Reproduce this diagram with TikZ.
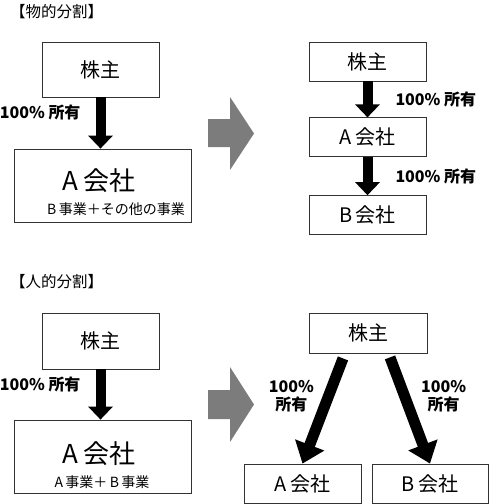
\documentclass[tikz,border=0pt]{standalone}
\usepackage{fontspec}
\setmainfont{Noto Sans CJK JP}
\usepackage{tikz}
\usetikzlibrary{positioning, arrows.meta, calc}
\definecolor{boxline}{HTML}{333333}
\definecolor{movegray}{HTML}{7C7C7C}
\tikzset{
  title text/.style={
    anchor=west,
    inner sep=0pt,
    font=\fontsize{15.5}{18}\selectfont
  },
  holder box/.style={
    draw=boxline,
    line width=0.8pt,
    minimum width=117pt,
    minimum height=39pt,
    inner sep=0pt,
    font=\fontsize{20}{24}\selectfont
  },
  company box/.style={
    draw=boxline,
    line width=0.8pt,
    minimum width=177pt,
    minimum height=73pt,
    inner sep=0pt
  },
  big name/.style={inner sep=0pt, font=\fontsize{26}{30}\selectfont},
  business/.style={inner sep=0pt, font=\fontsize{14}{16}\selectfont},
  own arrow/.style={
    -{Triangle[width=24pt,length=13pt]},
    line width=10pt
  },
  slant arrow/.style={
    -{Triangle[width=30pt,length=20pt]},
    line width=11pt
  },
  own label/.style={
    inner sep=0pt,
    align=center,
    font=\bfseries\fontsize{16}{18}\selectfont
  },
  gray block arrow/.style={fill=movegray}
}

\begin{document}
\begin{tikzpicture}[x=1pt, y=-1pt]
  \useasboundingbox (0,0) rectangle (490,504);

  % physical split
  \node[title text] (title1) at (10,12) {【物的分割】};
  \node[holder box, minimum height=55pt] (holder1) at (100.5,69.5) {株主};
  \node[company box] (compA1) at (102.5,185.5) {};
  \node[big name] (nameA1) at (99,181) {A\,会社};
  \node[business] (busA1) at (116,209) {B\,事業＋その他の事業};
  \draw[own arrow] (holder1.south) -- node[own label, pos=0.3, left=15pt] {100\%\ 所有} (holder1.south |- compA1.north);

  \fill[gray block arrow] (208,119) -- (230,119) -- (230,97) -- (254,133.5) -- (230,170) -- (230,147) -- (208,147) -- cycle;

  \node[holder box] (holder2) at (367.5,61.5) {株主};
  \node[holder box, below=36pt of holder2] (compA2) {A\,会社};
  \node[holder box, below=38pt of compA2] (compB2) {B\,会社};
  \draw[own arrow] (holder2) -- node[own label, right=23pt] {100\%\ 所有} (compA2);
  \draw[own arrow] (compA2) -- node[own label, right=23pt] {100\%\ 所有} (compB2);

  % split-off to shareholders
  \node[title text] (title2) at (10,282) {【人的分割】};
  \node[holder box, minimum height=56pt] (holder3) at (100.5,341) {株主};
  \node[company box] (compA3) at (102.5,456.5) {};
  \node[big name] (nameA3) at (99,454) {A\,会社};
  \node[business] (busA3) at (102,482) {A\,事業＋\,B\,事業};
  \draw[own arrow] (holder3.south) -- node[own label, pos=0.3, left=15pt] {100\%\ 所有} (holder3.south |- compA3.north);

  \fill[gray block arrow] (208,390) -- (230,390) -- (230,367) -- (254,404.5) -- (230,442) -- (230,419) -- (208,419) -- cycle;

  \node[holder box, minimum width=118pt, minimum height=40pt] (holder4) at (368,333) {株主};
  \node[holder box] (compA4) at (302.5,483.5) {A\,会社};
  \node[holder box, minimum width=116pt] (compB4) at (430,483.5) {B\,会社};
  \coordinate (fromA4) at ($(holder4.south)+(-25,5)$);
  \coordinate (fromB4) at ($(holder4.south)+(22,4)$);
  \draw[slant arrow] (fromA4) -- node[own label, pos=0.36, xshift=-37pt] {100\%\\所有} (compA4.north);
  \draw[slant arrow] (fromB4) -- node[own label, pos=0.365, xshift=39pt] {100\%\\所有} (compB4.north);
\end{tikzpicture}
\end{document}
